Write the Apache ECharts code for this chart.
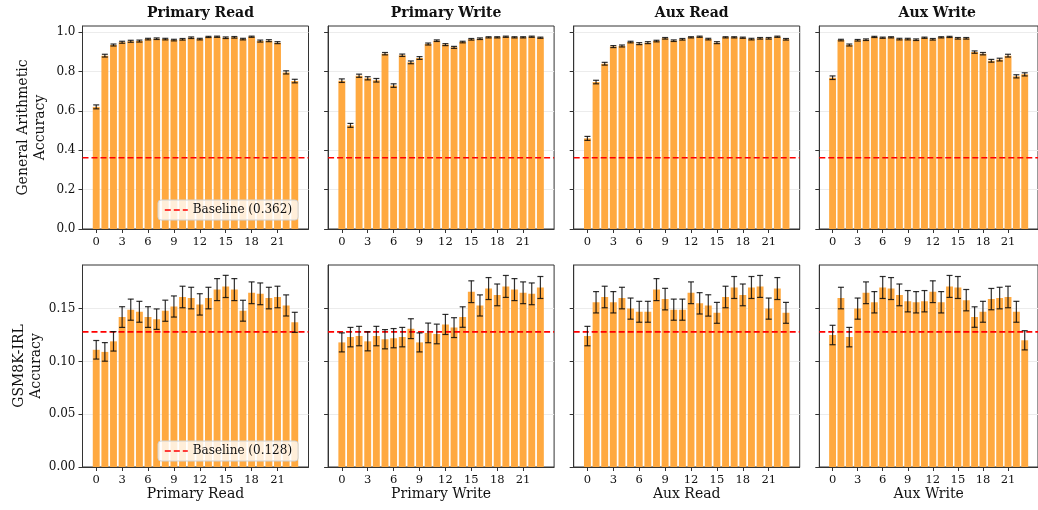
<!DOCTYPE html>
<html>
<head>
<meta charset="utf-8">
<script src="https://cdn.jsdelivr.net/npm/echarts@6/dist/echarts.min.js"></script>
<style>html,body{margin:0;padding:0;background:#fff;}#c{width:1038px;height:510px;}</style>
</head>
<body>
<div id="c"></div>
<script>
// ---------------- DATA ----------------
const layers = [0,1,2,3,4,5,6,7,8,9,10,11,12,13,14,15,16,17,18,19,20,21,22,23];
const panelTitles = ['Primary Read', 'Primary Write', 'Aux Read', 'Aux Write'];
const xTicks = [0,3,6,9,12,15,18,21];
const topYTicks = [0,0.2,0.4,0.6,0.8,1.0];
const botYTicks = [0,0.05,0.10,0.15];
const topYName = 'General Arithmetic\nAccuracy';
const botYName = 'GSM8K-IRL\nAccuracy';
const baselineTop = 0.362;
const baselineBot = 0.128;

// General Arithmetic accuracy (top row)
const primaryReadArith = [0.620,0.880,0.934,0.948,0.953,0.954,0.964,0.966,0.964,0.959,0.963,0.971,0.964,0.975,0.976,0.971,0.973,0.964,0.976,0.954,0.956,0.946,0.795,0.751];
const primaryReadArithErr = [0.010,0.007,0.005,0.005,0.005,0.005,0.004,0.004,0.004,0.004,0.004,0.004,0.004,0.003,0.003,0.004,0.004,0.004,0.003,0.005,0.005,0.005,0.008,0.009];
const primaryWriteArith = [0.753,0.526,0.778,0.765,0.755,0.890,0.728,0.882,0.846,0.868,0.939,0.956,0.936,0.922,0.949,0.963,0.966,0.973,0.973,0.976,0.973,0.973,0.976,0.971];
const primaryWriteArithErr = [0.009,0.010,0.008,0.008,0.009,0.006,0.009,0.006,0.007,0.007,0.005,0.004,0.005,0.005,0.004,0.004,0.004,0.003,0.003,0.003,0.003,0.003,0.003,0.003];
const auxReadArith = [0.460,0.746,0.839,0.926,0.929,0.949,0.941,0.946,0.954,0.968,0.956,0.963,0.973,0.976,0.964,0.946,0.973,0.973,0.971,0.964,0.968,0.968,0.976,0.963];
const auxReadArithErr = [0.010,0.009,0.007,0.005,0.005,0.004,0.005,0.005,0.004,0.004,0.004,0.004,0.003,0.003,0.004,0.005,0.003,0.003,0.003,0.004,0.004,0.004,0.003,0.004];
const auxWriteArith = [0.768,0.959,0.934,0.958,0.961,0.975,0.971,0.973,0.964,0.964,0.961,0.971,0.963,0.973,0.975,0.968,0.968,0.898,0.890,0.854,0.860,0.880,0.775,0.785];
const auxWriteArithErr = [0.009,0.004,0.005,0.004,0.004,0.003,0.003,0.003,0.004,0.004,0.004,0.003,0.004,0.003,0.003,0.004,0.004,0.006,0.006,0.007,0.007,0.007,0.008,0.008];

// GSM8K-IRL accuracy (bottom row)
const primaryReadGsm = [0.111,0.109,0.119,0.142,0.149,0.147,0.142,0.140,0.148,0.152,0.161,0.160,0.154,0.160,0.168,0.171,0.168,0.148,0.165,0.164,0.160,0.161,0.153,0.137];
const primaryReadGsmErr = [0.0088,0.0088,0.0092,0.0098,0.0100,0.0099,0.0098,0.0097,0.0100,0.0100,0.0102,0.0102,0.0101,0.0102,0.0104,0.0105,0.0104,0.0099,0.0103,0.0103,0.0102,0.0102,0.0100,0.0095];
const primaryWriteGsm = [0.118,0.123,0.124,0.119,0.124,0.121,0.122,0.123,0.131,0.118,0.127,0.126,0.135,0.132,0.142,0.166,0.153,0.169,0.163,0.171,0.168,0.165,0.164,0.170];
const primaryWriteGsmErr = [0.0090,0.0092,0.0092,0.0090,0.0092,0.0091,0.0091,0.0092,0.0094,0.0090,0.0093,0.0093,0.0095,0.0094,0.0097,0.0103,0.0100,0.0104,0.0103,0.0104,0.0104,0.0103,0.0103,0.0104];
const auxReadGsm = [0.124,0.156,0.161,0.156,0.160,0.150,0.147,0.147,0.168,0.159,0.149,0.149,0.165,0.155,0.153,0.146,0.161,0.170,0.163,0.170,0.171,0.150,0.169,0.146];
const auxReadGsmErr = [0.0092,0.0101,0.0102,0.0101,0.0102,0.0100,0.0099,0.0099,0.0104,0.0102,0.0100,0.0100,0.0103,0.0101,0.0101,0.0099,0.0102,0.0104,0.0103,0.0104,0.0104,0.0100,0.0104,0.0099];
const auxWriteGsm = [0.125,0.160,0.123,0.150,0.165,0.156,0.170,0.169,0.163,0.157,0.156,0.157,0.166,0.156,0.171,0.170,0.158,0.142,0.147,0.159,0.160,0.161,0.147,0.120];
const auxWriteGsmErr = [0.0092,0.0102,0.0092,0.0100,0.0103,0.0101,0.0104,0.0104,0.0103,0.0101,0.0101,0.0101,0.0103,0.0101,0.0104,0.0104,0.0101,0.0097,0.0099,0.0101,0.0102,0.0102,0.0099,0.0091];

// ---------------- BUILD ----------------
const topVals = [primaryReadArith, primaryWriteArith, auxReadArith, auxWriteArith];
const topErrs = [primaryReadArithErr, primaryWriteArithErr, auxReadArithErr, auxWriteArithErr];
const botVals = [primaryReadGsm, primaryWriteGsm, auxReadGsm, auxWriteGsm];
const botErrs = [primaryReadGsmErr, primaryWriteGsmErr, auxReadGsmErr, auxWriteGsmErr];

const FONT = 'DejaVu Serif';
const BAR = '#FFA940';
const AXC = '#333333';
const colLeft = [82.5, 328.1, 573.7, 819.3];
const colW = 226;
const rowTop = [26, 265];
const rowH = [203, 202];
const xMin = -1.59, xMax = 24.59;

const grids = [], xAxes = [], yAxes = [], series = [], titles = [];
for (let r = 0; r < 2; r++) {
  for (let c = 0; c < 4; c++) {
    const idx = r * 4 + c;
    grids.push({left: colLeft[c], top: rowTop[r], width: colW, height: rowH[r],
      show: true, borderColor: AXC, borderWidth: 1, backgroundColor: 'transparent', containLabel: false});
    xAxes.push({type: 'value', gridIndex: idx, min: xMin, max: xMax,
      name: r === 1 ? panelTitles[c] : '', nameLocation: 'middle', nameGap: 19,
      nameTextStyle: {fontFamily: FONT, fontSize: 14, color: '#111'},
      axisLine: {show: true, onZero: false, lineStyle: {color: AXC, width: 1}},
      axisTick: {show: true, length: 4, lineStyle: {color: AXC}, customValues: xTicks},
      axisLabel: {show: true, customValues: xTicks, fontFamily: FONT, fontSize: 11.5, color: '#111', margin: 7},
      splitLine: {show: false}});
    const yt = r === 0 ? topYTicks : botYTicks;
    yAxes.push({type: 'value', gridIndex: idx, min: 0, max: r === 0 ? 1.0305 : 0.1913,
      name: c === 0 ? (r === 0 ? topYName : botYName) : '', nameLocation: 'middle', nameRotate: 90, nameGap: 34,
      nameTextStyle: {fontFamily: FONT, fontSize: 14, color: '#111', lineHeight: 17},
      axisLine: {show: true, onZero: false, lineStyle: {color: AXC, width: 1}},
      axisTick: {show: true, length: 4, lineStyle: {color: AXC}, customValues: yt},
      axisLabel: {show: c === 0, customValues: yt, fontFamily: FONT, fontSize: 12, color: '#111', margin: 7,
        formatter: v => r === 0 ? v.toFixed(1) : v.toFixed(2)},
      splitLine: {show: true, lineStyle: {color: '#ececec', width: 1}}});
    if (r === 0) {
      titles.push({text: panelTitles[c], left: colLeft[c] + colW / 2, top: 1, textAlign: 'center',
        textStyle: {fontFamily: FONT, fontSize: 14, fontWeight: 'bold', color: '#111'}});
    }
    const vals = r === 0 ? topVals[c] : botVals[c];
    const errs = r === 0 ? topErrs[c] : botErrs[c];
    series.push({type: 'bar', xAxisIndex: idx, yAxisIndex: idx, barWidth: 6.9,
      itemStyle: {color: BAR}, silent: true,
      data: layers.map((l, i) => [l, vals[i]])});
    const base = r === 0 ? baselineTop : baselineBot;
    series.push({type: 'line', name: 'Baseline (' + base.toFixed(3) + ')', xAxisIndex: idx, yAxisIndex: idx,
      symbol: 'none', silent: true, z: 4,
      lineStyle: {color: '#ff0000', width: 1.6, type: [6, 3]}, itemStyle: {color: '#ff0000'},
      data: [[xMin, base], [xMax, base]]});
    series.push({type: 'custom', xAxisIndex: idx, yAxisIndex: idx, silent: true, z: 5,
      data: layers.map((l, i) => [l, vals[i] - errs[i], vals[i] + errs[i]]),
      renderItem: function (params, api) {
        const lo = api.coord([api.value(0), api.value(1)]);
        const hi = api.coord([api.value(0), api.value(2)]);
        const cap = 3;
        const st = {stroke: 'rgba(10,10,10,0.85)', lineWidth: 1.2};
        return {type: 'group', children: [
          {type: 'line', shape: {x1: lo[0], y1: lo[1], x2: hi[0], y2: hi[1]}, style: st},
          {type: 'line', shape: {x1: lo[0] - cap, y1: lo[1], x2: lo[0] + cap, y2: lo[1]}, style: st},
          {type: 'line', shape: {x1: hi[0] - cap, y1: hi[1], x2: hi[0] + cap, y2: hi[1]}, style: st}
        ]};
      }});
  }
}

const legendCommon = {orient: 'horizontal', itemWidth: 23, itemHeight: 10, itemGap: 6,
  padding: [4, 6, 4, 6], backgroundColor: 'rgba(255,255,255,0.8)', borderColor: '#d0d0d0', borderWidth: 1, borderRadius: 3,
  itemStyle: {opacity: 0},
  lineStyle: {color: '#ff0000', width: 1.6, type: [6, 3]},
  textStyle: {fontFamily: FONT, fontSize: 12, color: '#111'}, selectedMode: false};

const option = {
  animation: false,
  backgroundColor: '#ffffff',
  title: titles,
  grid: grids,
  xAxis: xAxes,
  yAxis: yAxes,
  legend: [
    Object.assign({}, legendCommon, {data: ['Baseline (0.362)'], left: 158, top: 200}),
    Object.assign({}, legendCommon, {data: ['Baseline (0.128)'], left: 158, top: 441})
  ],
  series: series
};
const chart = echarts.init(document.getElementById('c'), null, {renderer: 'canvas'});
chart.setOption(option);
</script>
</body>
</html>
